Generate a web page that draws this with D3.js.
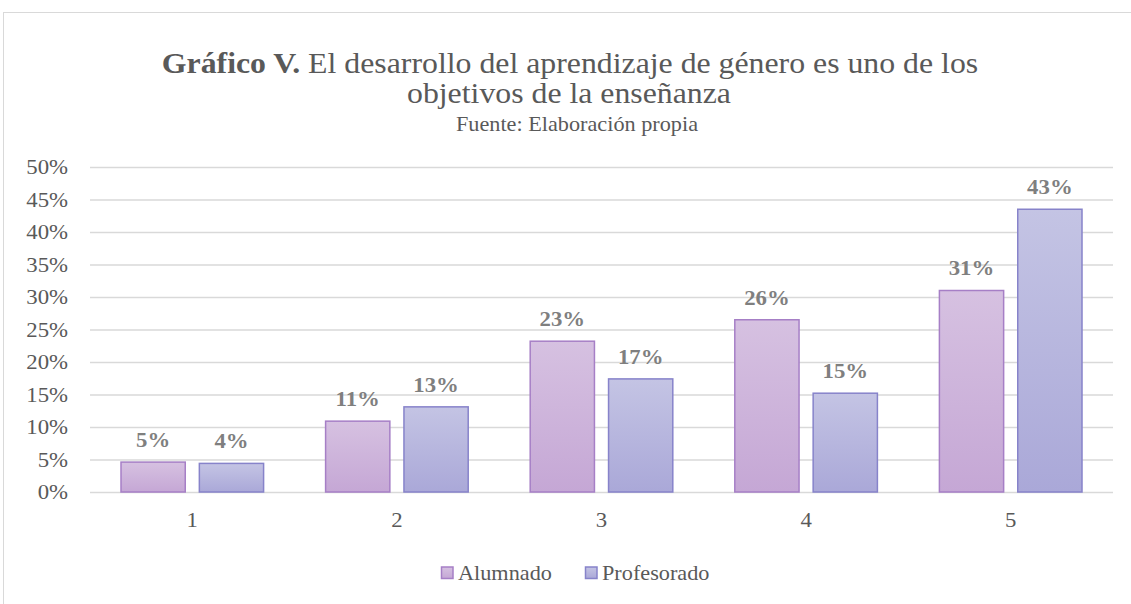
<!DOCTYPE html>
<html><head><meta charset="utf-8">
<script src="https://cdn.jsdelivr.net/npm/d3@7"></script>
<style>body{margin:0;background:#fff}svg{display:block}
svg text{font-family:"Liberation Serif","Times New Roman",serif}</style>
</head><body>
<svg id="c" width="1131" height="604"></svg>
<script>
const categories = ["1","2","3","4","5"];
const seriesNames = ["Alumnado","Profesorado"];
const alumnado = [4.6, 10.9, 23.2, 26.5, 31.0];
const profesorado = [4.4, 13.1, 17.4, 15.2, 43.5];
const alumnadoLabels = ["5%","11%","23%","26%","31%"];
const profesoradoLabels = ["4%","13%","17%","15%","43%"];
const yTicks = [0,5,10,15,20,25,30,35,40,45,50];

(function(){
const svg = d3.select("#c");
const gray = "#595959";
const SX = 1.06;
function stretch(sel){
  sel.each(function(){
    const xv = parseFloat(this.getAttribute("x")) || 0;
    this.setAttribute("transform", `translate(${xv*(1-SX)},0) scale(${SX},1)`);
  });
}

svg.append("rect").attr("x",3.5).attr("y",12.5).attr("width",1140).attr("height",600)
  .attr("fill","#fff").attr("stroke","#d9d9d9").attr("stroke-width",1);

const defs = svg.append("defs");
const g1 = defs.append("linearGradient").attr("id","gA").attr("x1",0).attr("y1",0).attr("x2",0).attr("y2",1);
g1.append("stop").attr("offset","0%").attr("stop-color","#d6c1e1");
g1.append("stop").attr("offset","100%").attr("stop-color","#c5a7d5");
const g2 = defs.append("linearGradient").attr("id","gP").attr("x1",0).attr("y1",0).attr("x2",0).attr("y2",1);
g2.append("stop").attr("offset","0%").attr("stop-color","#c4c4e4");
g2.append("stop").attr("offset","100%").attr("stop-color","#aaa8d8");
const fills = ["url(#gA)","url(#gP)"];
const strokes = ["#a67fc6","#8783ca"];

const titles = svg.append("g");
const t = titles.append("text").attr("x",570).attr("y",73).attr("text-anchor","middle")
  .attr("font-size",30).attr("fill",gray);
t.append("tspan").attr("font-weight","bold").text("Gráfico V.");
t.append("tspan").text(" El desarrollo del aprendizaje de género es uno de los");
titles.append("text").attr("x",569).attr("y",103).attr("text-anchor","middle")
  .attr("font-size",30).attr("fill",gray)
  .text("objetivos de la enseñanza");
titles.append("text").attr("x",577).attr("y",131).attr("text-anchor","middle")
  .attr("font-size",21).attr("fill",gray)
  .text("Fuente: Elaboración propia");
stretch(titles.selectAll("text"));

const pLeft = 90, pRight = 1113, pTop = 167, pBottom = 492;
const y = d3.scaleLinear().domain([0,50]).range([pBottom, pTop]);
const x = d3.scaleBand().domain(categories).range([pLeft,pRight]).paddingInner(0).paddingOuter(0);
const x1 = d3.scaleBand().domain(seriesNames).range([31, x.bandwidth()-31]).paddingInner(0.18);

svg.append("g").selectAll("line").data(yTicks).join("line")
  .attr("x1",pLeft).attr("x2",pRight).attr("y1",d=>y(d)+0.5).attr("y2",d=>y(d)+0.5)
  .attr("stroke","#d9d9d9").attr("stroke-width",1.3);

const yAxis = d3.axisLeft(y).tickValues(yTicks).tickFormat(d=>d+"%").tickSize(0).tickPadding(0);
const ya = svg.append("g").attr("transform",`translate(68,0)`).call(yAxis);
ya.select(".domain").remove();
ya.attr("font-family",null);
ya.selectAll("text").attr("font-size",21.5).attr("fill",gray);
stretch(ya.selectAll("text"));

const xAxis = d3.axisBottom(x).tickSize(0).tickPadding(0);
const xa = svg.append("g").attr("transform",`translate(0,${pBottom+20})`).call(xAxis);
xa.select(".domain").remove();
xa.attr("font-family",null);
xa.selectAll("text").attr("font-size",21.5).attr("fill",gray);
stretch(xa.selectAll("text"));

const data = categories.map((c,i)=>({c, vals:[alumnado[i],profesorado[i]], labs:[alumnadoLabels[i],profesoradoLabels[i]]}));
const groups = svg.append("g").selectAll("g").data(data).join("g")
  .attr("transform",d=>`translate(${x(d.c)},0)`);
groups.selectAll("rect").data(d=>d.vals.map((v,k)=>({v,k,s:seriesNames[k]}))).join("rect")
  .attr("x",d=>x1(d.s)).attr("width",x1.bandwidth())
  .attr("y",d=>y(d.v)).attr("height",d=>pBottom-y(d.v))
  .attr("fill",d=>fills[d.k]).attr("stroke",d=>strokes[d.k]).attr("stroke-width",1.5);
const labs = groups.selectAll("text.lab").data(d=>d.vals.map((v,k)=>({v,k,s:seriesNames[k],l:d.labs[k]}))).join("text")
  .attr("class","lab")
  .attr("x",d=>x1(d.s)+x1.bandwidth()/2).attr("y",d=>y(d.v)-15)
  .attr("text-anchor","middle").attr("font-weight","bold")
  .attr("font-size",21.5).attr("fill","#7f7f7f").text(d=>d.l);
stretch(labs);

const leg = svg.append("g");
const legX = [441, 585];
seriesNames.forEach((s,k)=>{
  leg.append("rect").attr("x",legX[k]+0.5).attr("y",567).attr("width",11.5).attr("height",11.5)
    .attr("fill",fills[k]).attr("stroke",strokes[k]).attr("stroke-width",1.5);
  leg.append("text").attr("x",legX[k]+17).attr("y",580).attr("font-size",21)
    .attr("fill",gray).text(s);
});
stretch(leg.selectAll("text"));
})();
</script>
</body></html>
